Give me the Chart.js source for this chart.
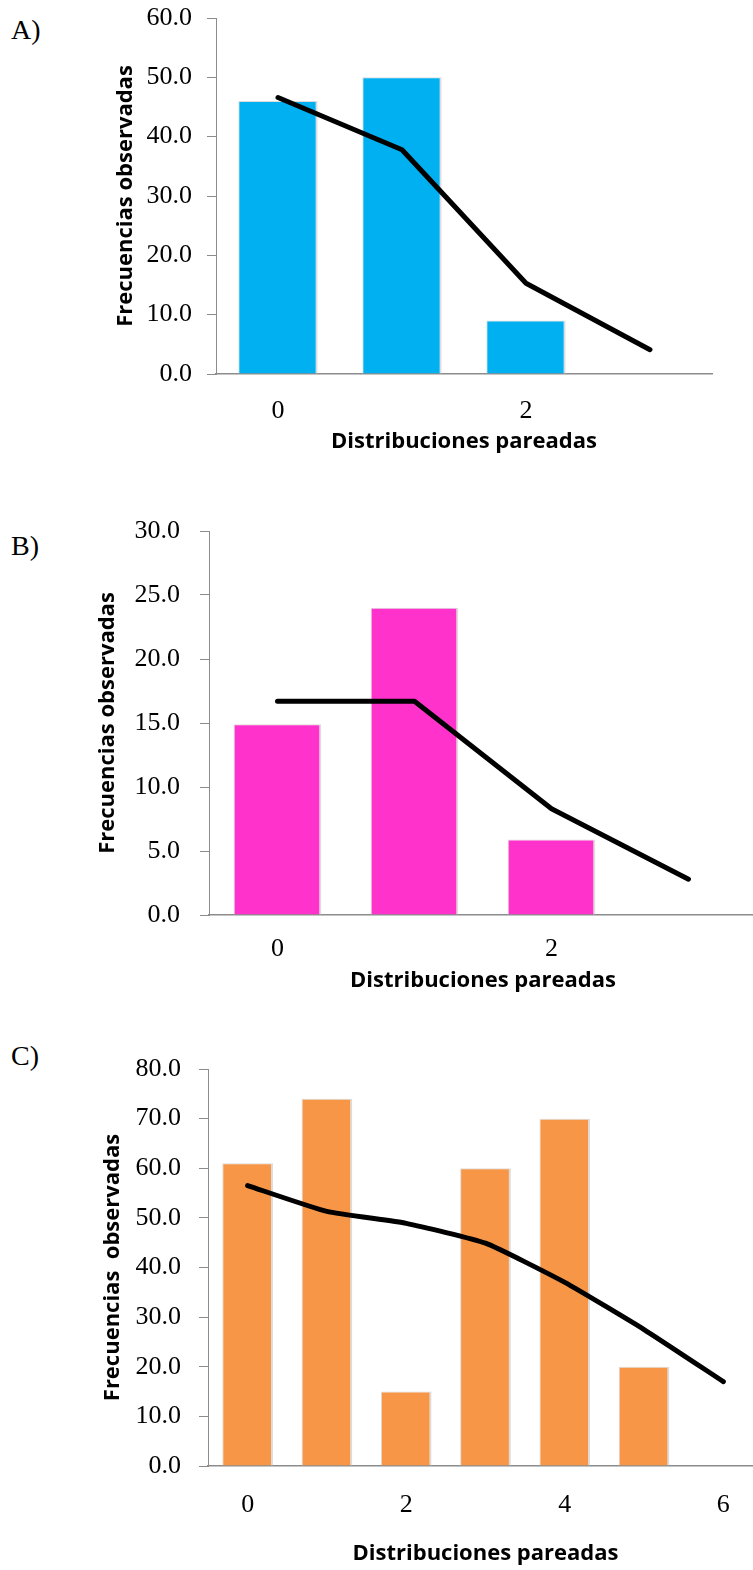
<!DOCTYPE html>
<html>
<head>
<meta charset="utf-8">
<script src="https://cdn.jsdelivr.net/npm/chart.js@4.4.1/dist/chart.umd.min.js"></script>
<style>
  html, body { margin: 0; padding: 0; background: #fff; overflow: hidden; }
  body { width: 753px; height: 1570px; position: relative; }
  canvas { position: absolute; left: 0; }
  .panel { position: absolute; left: 11px; font: 28px "Liberation Serif", serif; color: #000; }
</style>
</head>
<body>
<div class="panel" style="top:14px">A)</div>
<div class="panel" style="top:530px">B)</div>
<div class="panel" style="top:1040px">C)</div>
<canvas id="chartA" width="753" height="480" style="top:0px"></canvas>
<canvas id="chartB" width="760" height="510" style="top:490px"></canvas>
<canvas id="chartC" width="780" height="530" style="top:1040px"></canvas>
<script>
// categories (distribuciones pareadas)
const catsA = ['0', '1', '2', '3'];
const catsB = ['0', '1', '2', '3'];
const catsC = ['0', '1', '2', '3', '4', '5', '6'];

// observed frequencies (bars)
const barsA = [46, 50, 9, null];
const barsB = [14.9, 24, 5.9, null];
const barsC = [61, 74, 15, 60, 70, 20, null];

// expected curve (line)
const lineA = [46.6, 37.8, 15.3, 4.1];
const lineB = [16.7, 16.7, 8.3, 2.8];
const lineC = [56.5, 51.3, 48.9, 44.9, 37.0, 27.5, 17.0];

// y axis ranges
const yMaxA = 60, yStepA = 10;
const yMaxB = 30, yStepB = 5;
const yMaxC = 80, yStepC = 10;

const yTitle = 'Frecuencias observadas';
const yTitleC = 'Frecuencias  observadas';
const xTitle = 'Distribuciones pareadas';

function makeChart(id, cats, bars, line, yMax, yStep, color, opts) {
    const ctx = document.getElementById(id).getContext('2d');
    return new Chart(ctx, {
        type: 'bar',
        data: {
            labels: cats,
            datasets: [
                {
                    type: 'line',
                    data: line,
                    borderColor: '#000',
                    borderWidth: 5,
                    pointRadius: 0,
                    tension: opts.tension,
                    borderCapStyle: 'round',
                    borderJoinStyle: 'round',
                    order: 0
                },
                {
                    data: bars,
                    backgroundColor: color,
                    borderColor: '#dcdcdc',
                    borderWidth: {left: 1, right: 2, top: 1, bottom: 0},
                    categoryPercentage: 1,
                    barPercentage: 0.64,
                    order: 1
                }
            ]
        },
        options: {
            responsive: false,
            animation: false,
            events: [],
            layout: {padding: opts.padding},
            plugins: {
                legend: {display: false},
                tooltip: {enabled: false}
            },
            scales: {
                x: {
                    grid: {display: false, drawTicks: false},
                    border: {display: true, color: '#8c8c8c', width: 1.5},
                    ticks: {
                        autoSkip: false,
                        maxRotation: 0,
                        padding: opts.xPad,
                        color: '#000',
                        font: {family: '"Liberation Serif", serif', size: 26},
                        callback: (v, i) => (i % 2 === 0 ? cats[i] : '')
                    },
                    title: {
                        display: true,
                        text: xTitle,
                        color: '#000',
                        padding: 0,
                        font: {family: '"Open Sans", sans-serif', size: 22, weight: 'bold'}
                    },
                    afterFit: (scale) => { scale.height = opts.xHeight; }
                },
                y: {
                    min: 0,
                    max: yMax,
                    grid: {drawOnChartArea: false, drawTicks: true, tickLength: 9, color: '#8c8c8c'},
                    border: {display: true, color: '#8c8c8c', width: 1},
                    ticks: {
                        stepSize: yStep,
                        padding: opts.yPad,
                        color: '#000',
                        font: {family: '"Liberation Serif", serif', size: 26},
                        callback: (v) => v.toFixed(1)
                    },
                    title: {
                        display: true,
                        text: opts.yTitle,
                        color: '#000',
                        padding: 0,
                        font: {family: '"Open Sans", sans-serif', size: 22, weight: 'bold'}
                    },
                    afterFit: (scale) => {
                        scale.width = opts.yWidth;
                        scale.paddingTop = 0;
                        scale.paddingBottom = 0;
                    }
                }
            }
        }
    });
}

makeChart('chartA', catsA, barsA, lineA, yMaxA, yStepA, '#00B0F0', {
    padding: {top: 18, left: 113, right: 41, bottom: 25},
    yWidth: 103, xHeight: 81, xPad: 22, yPad: 15, tension: 0, yTitle: yTitle
});
makeChart('chartB', catsB, barsB, lineB, yMaxB, yStepB, '#FF33CC', {
    padding: {top: 41, left: 95, right: 3, bottom: 6},
    yWidth: 114, xHeight: 79, xPad: 19, yPad: 20, tension: 0, yTitle: yTitle
});
makeChart('chartC', catsC, barsC, lineC, yMaxC, yStepC, '#F79646', {
    padding: {top: 29, left: 100, right: 17, bottom: 3},
    yWidth: 108, xHeight: 101, xPad: 24, yPad: 18, tension: 0.15, yTitle: yTitleC
});
</script>
</body>
</html>
